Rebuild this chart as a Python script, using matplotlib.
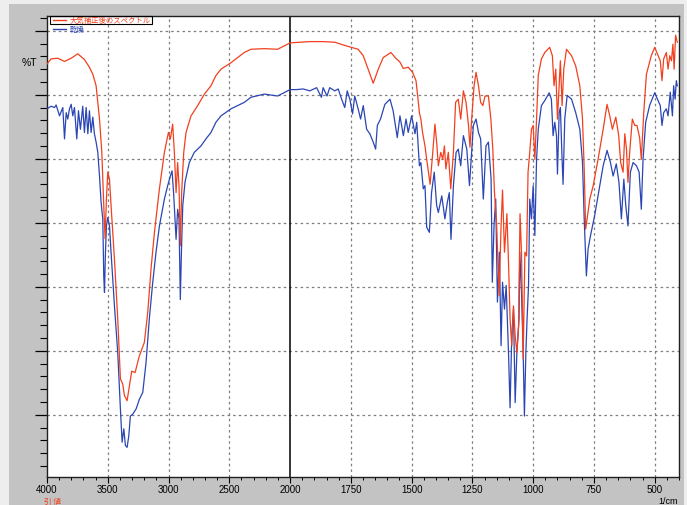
import numpy as np
import matplotlib
matplotlib.use("Agg")
import matplotlib.pyplot as plt
from matplotlib.patches import Rectangle
from matplotlib.ticker import FixedLocator, NullFormatter, MultipleLocator

# ---------------- data (wavenumber 1/cm, %T) ----------------
red_w = [4000, 3966, 3911, 3856, 3801, 3747, 3692, 3651, 3623, 3596,
         3568, 3549, 3533, 3522, 3511, 3500, 3486, 3473, 3445, 3418,
         3396, 3377, 3363, 3341, 3322, 3303, 3275, 3240, 3199, 3171,
         3144, 3116, 3075, 3034, 3001, 2985, 2966, 2952, 2938, 2925,
         2914, 2903, 2892, 2875, 2856, 2815, 2760, 2705, 2651, 2610,
         2568, 2486, 2377, 2322, 2212, 2103, 2000,
         1960, 1919, 1864, 1816, 1775, 1747, 1720, 1699, 1679, 1658,
         1637, 1617, 1585, 1565, 1548, 1534, 1514, 1496, 1482, 1475,
         1468, 1462, 1455, 1445, 1438, 1424, 1413, 1404, 1397, 1390,
         1380, 1372, 1365, 1359, 1349, 1339, 1328, 1319, 1308, 1298,
         1287, 1276, 1266, 1260, 1253, 1243, 1235, 1225, 1216, 1207,
         1198, 1184, 1174, 1166, 1159, 1150, 1140, 1132, 1126, 1118,
         1108, 1101, 1095, 1088, 1081, 1074, 1067, 1060, 1054,
         1048, 1041, 1034, 1027, 1021, 1014, 1007, 1000, 993, 986,
         979, 966, 952, 932, 921, 914, 907, 900, 893, 888,
         881, 874, 863, 842, 825, 808, 797, 790, 784, 778,
         767, 753, 733, 712, 696, 685, 674, 660, 648, 640,
         630, 623, 616, 610, 603, 592, 582, 573, 562, 555,
         545, 534, 514, 500, 486, 477, 470, 463, 452, 445,
         438, 431, 425, 420, 414, 407]
red_t = [64.8, 65.6, 65.7, 65.2, 65.7, 66.4, 65.5, 64.3, 63.2, 61.4,
         56.2, 51.0, 42.7, 37.5, 43.8, 47.9, 46.8, 42.7, 34.3, 25.0,
         15.6, 14.8, 13.0, 12.2, 14.5, 16.8, 16.6, 19.2, 21.3, 26.0,
         32.8, 38.5, 45.3, 51.0, 54.1, 53.1, 55.4, 51.0, 44.7, 49.4,
         45.8, 36.4, 44.7, 51.0, 54.1, 56.7, 58.3, 60.1, 61.4, 63.0,
         64.0, 65.0, 66.6, 67.1, 67.2, 67.1, 68.1,
         68.2, 68.3, 68.3, 68.2, 67.7, 67.4, 67.1, 66.1, 64.0, 61.8,
         64.0, 65.8, 66.6, 65.7, 65.1, 64.1, 64.3, 63.5, 62.2, 59.8,
         57.2, 56.2, 54.1, 52.0, 49.9, 46.0, 51.0, 55.4, 52.6, 48.9,
         51.0, 49.9, 52.0, 48.4, 51.0, 45.3, 51.0, 58.8, 59.3, 56.2,
         60.6, 58.8, 55.2, 51.8, 56.2, 61.4, 63.5, 61.4, 58.8, 58.3,
         59.8, 59.8, 56.2, 51.5, 44.7, 39.5, 28.6, 39.5, 45.1, 35.4,
         41.4, 33.3, 25.0, 20.8, 27.0, 22.3, 19.7, 23.9, 41.4,
         35.4, 18.7, 35.4, 34.8, 47.9, 51.0, 54.6, 55.2, 49.9, 56.2,
         63.0, 65.6, 66.6, 67.4, 66.1, 61.4, 64.0, 56.2, 61.4, 65.3,
         58.3, 64.0, 67.1, 66.1, 64.5, 61.4, 56.2, 48.4, 39.0, 40.6,
         43.7, 45.8, 49.9, 54.6, 58.5, 56.7, 54.6, 56.5, 53.6, 49.4,
         47.9, 53.9, 51.5, 46.3, 51.0, 56.2, 55.2, 55.2, 53.3, 49.9,
         57.2, 63.2, 66.1, 67.4, 66.1, 65.3, 62.2, 65.6, 66.6, 64.0,
         66.1, 65.3, 67.9, 64.0, 69.3, 68.2]

blue_w = [4000, 3966, 3938, 3925, 3897, 3870, 3856, 3842, 3829, 3815,
          3801, 3788, 3774, 3755, 3741, 3725, 3706, 3692, 3678, 3664,
          3651, 3637, 3623, 3610, 3596, 3582, 3568, 3555, 3541, 3533,
          3527, 3519, 3511, 3500, 3486, 3473, 3445, 3418, 3396, 3382,
          3368, 3355, 3341, 3327, 3314, 3294, 3267, 3240, 3212, 3185,
          3158, 3130, 3103, 3075, 3034, 3007, 2985, 2971, 2957, 2947,
          2938, 2925, 2914, 2903, 2894, 2883, 2864, 2829, 2788, 2733,
          2692, 2651, 2610, 2568, 2486, 2377, 2322, 2212, 2103, 2000,
          1974, 1946, 1919, 1891, 1871, 1864, 1848, 1837, 1816, 1802,
          1788, 1775, 1765, 1754, 1743, 1734, 1720, 1710, 1699, 1685,
          1672, 1658, 1648, 1641, 1628, 1610, 1589, 1576, 1559, 1548,
          1534, 1523, 1514, 1500, 1486, 1479, 1468, 1462, 1452, 1445,
          1438, 1427, 1418, 1407, 1397, 1390, 1376, 1363, 1353, 1345,
          1338, 1328, 1317, 1308, 1298, 1287, 1273, 1262, 1256, 1246,
          1235, 1225, 1216, 1205, 1194, 1184, 1173, 1168, 1161, 1154,
          1147, 1139, 1132, 1126, 1118, 1111, 1101, 1095, 1088, 1081,
          1074, 1067, 1058,
          1055, 1048, 1041, 1036, 1030, 1025, 1019, 1014, 1007, 1000,
          993, 986, 979, 966, 952, 934, 925, 918, 911, 904,
          900, 893, 888, 882, 877, 870, 860, 842, 825, 808,
          797, 790, 785, 781, 774, 764, 747, 726, 712, 696,
          682, 671, 658, 647, 637, 627, 619, 610, 600, 589,
          575, 564, 555, 548, 537, 521, 500, 486, 477, 470,
          463, 452, 445, 436, 427, 422, 416, 411, 407]
blue_t = [57.8, 58.2, 58.0, 58.4, 56.7, 58.0, 53.1, 57.2, 56.2, 57.8,
          58.5, 56.7, 58.0, 53.1, 57.5, 54.6, 58.2, 54.1, 58.0, 53.9,
          57.5, 54.1, 56.5, 53.9, 52.6, 51.0, 47.3, 43.2, 40.6, 31.7,
          29.1, 35.4, 39.5, 40.8, 39.5, 35.4, 27.0, 19.7, 10.9, 5.7,
          7.8, 5.2, 4.9, 6.7, 9.8, 10.1, 10.9, 12.4, 13.5, 18.2,
          25.0, 30.7, 35.4, 39.5, 43.7, 45.8, 47.3, 48.1, 44.2, 40.6,
          37.4, 42.1, 40.6, 28.0, 35.4, 42.7, 46.4, 49.4, 51.0, 52.0,
          53.1, 54.1, 55.7, 56.7, 57.8, 58.8, 59.6, 60.1, 59.8, 60.8,
          60.8, 60.9, 60.6, 61.1, 59.6, 61.1, 59.8, 61.1, 60.6, 60.9,
          59.3, 58.0, 60.6, 59.3, 57.0, 59.8, 57.8, 56.2, 58.3, 54.6,
          53.9, 52.6, 51.5, 55.2, 56.2, 58.5, 59.3, 57.5, 53.3, 56.7,
          53.6, 56.2, 54.1, 56.7, 53.9, 55.7, 48.9, 49.4, 45.3, 45.8,
          39.3, 38.5, 44.7, 47.9, 42.7, 41.6, 44.2, 40.6, 43.2, 44.7,
          37.4, 45.8, 51.0, 51.5, 48.9, 53.6, 51.5, 45.8, 49.4, 55.2,
          56.2, 54.1, 53.1, 43.7, 52.0, 52.6, 46.8, 30.7, 39.5, 43.7,
          27.6, 35.4, 20.8, 30.7, 26.5, 30.2, 19.2, 11.1, 22.3, 26.5,
          11.9, 19.7, 25.0,
          35.4, 29.1, 19.7, 9.8, 19.7, 25.0, 30.2, 43.7, 40.6, 45.8,
          38.0, 49.9, 54.6, 58.3, 59.1, 60.3, 59.3, 53.6, 55.7, 53.6,
          47.6, 57.2, 58.0, 51.0, 46.0, 56.2, 59.9, 59.3, 57.2, 54.6,
          49.4, 40.6, 35.4, 31.7, 35.9, 38.0, 41.1, 45.8, 48.9, 51.3,
          49.4, 47.3, 49.2, 46.3, 40.6, 46.8, 42.7, 39.5, 47.9, 49.4,
          48.9, 47.9, 42.1, 49.9, 55.7, 58.3, 60.3, 59.1, 58.3, 55.2,
          57.2, 57.8, 56.7, 60.4, 56.7, 61.4, 59.3, 62.2, 61.4]

x_major = [4000, 3500, 3000, 2500, 2000, 1750, 1500, 1250, 1000, 750, 500]
x_labels = ["4000", "3500", "3000", "2500", "2000", "1750", "1500", "1250", "1000", "750", "500"]
legend_labels = ["大気補正後のスペクトル", "乾燥"]

RED = "#f2401e"
BLUE = "#2a46b4"

# two-scale IR axis: 500 /cm per unit above 2000, 250 /cm per unit below
def fwd(w):
    w = np.asarray(w, dtype=float)
    return np.where(w >= 2000, 4 + (w - 2000) / 500.0, 4 + (w - 2000) / 250.0)

def inv(u):
    u = np.asarray(u, dtype=float)
    return np.where(u >= 4, 2000 + (u - 4) * 500.0, 2000 + (u - 4) * 250.0)

plt.rcParams['font.family'] = ['Liberation Sans', 'DejaVu Sans']

fig = plt.figure(figsize=(6.87, 5.06), dpi=100, facecolor="#c3c3c3")
# light outer margin (top, left, right)
fig.patches.append(Rectangle((0, 0), 9 / 687, 1, transform=fig.transFigure,
                             facecolor="#eeeeee", edgecolor="none", zorder=0))
fig.patches.append(Rectangle((0, 1 - 5 / 506), 1, 5 / 506, transform=fig.transFigure,
                             facecolor="#eeeeee", edgecolor="none", zorder=0))
fig.patches.append(Rectangle((684 / 687, 0), 3 / 687, 1, transform=fig.transFigure,
                             facecolor="#eeeeee", edgecolor="none", zorder=0))

ax = fig.add_axes([47 / 687, 1 - 478 / 506, 632 / 687, 461 / 506])
ax.set_facecolor("white")
ax.set_xscale('function', functions=(fwd, inv))
ax.set_xlim(4000, 400)
ax.set_ylim(0.27, 72.3)

# grid
for w in x_major[1:]:
    if w == 2000:
        continue
    ax.axvline(w, color="#7e7e7e", lw=0.9, ls=(0, (2, 2.5)), zorder=1)
for v in range(10, 71, 10):
    ax.axhline(v, color="#7e7e7e", lw=0.9, ls=(0, (2, 2.5)), zorder=1)
ax.axvline(2000, color="black", lw=1.1, zorder=2)

ax.plot(blue_w, blue_t, color=BLUE, lw=0.9, zorder=3)
ax.plot(red_w, red_t, color=RED, lw=0.9, zorder=4)

# ticks
ax.xaxis.set_major_locator(FixedLocator(x_major))
ax.set_xticklabels(x_labels)
x_minor = list(range(4000, 2000, -100)) + list(range(2000, 399, -50))
ax.xaxis.set_minor_locator(FixedLocator(x_minor))
ax.xaxis.set_minor_formatter(NullFormatter())
ax.yaxis.set_major_locator(FixedLocator(list(range(10, 71, 10))))
ax.yaxis.set_minor_locator(MultipleLocator(2))
ax.set_yticklabels([])
ax.tick_params(axis='x', which='major', direction='out', length=4, width=0.8,
               labelsize=7, pad=1, colors='black')
ax.tick_params(axis='x', which='minor', direction='out', length=2.5, width=0.7)
ax.tick_params(axis='y', which='major', direction='out', length=9, width=0.9)
ax.tick_params(axis='y', which='minor', direction='out', length=5, width=0.8)
for s in ax.spines.values():
    s.set_color("#202020")
    s.set_linewidth(1.0)

# axis texts
fig.text(29 / 687, 1 - 63 / 506, "%T", fontsize=7.5, ha='center', va='center')
fig.text(668 / 687, 1 - 501.5 / 506, "1/cm", fontsize=6.5, ha='center', va='center')
fig.text(52 / 687, 1 - 501.5 / 506, "引 値", fontsize=5.5, ha='center', va='center',
         color=RED, family=['Noto Sans CJK JP', 'DejaVu Sans'])

# legend
lx0, lx1, lt = 53 / 687, 66 / 687, 70 / 687
y1, y2 = 1 - 20.5 / 506, 1 - 29.5 / 506
fig.lines.append(plt.Line2D([lx0, lx1], [y1, y1], transform=fig.transFigure, color=RED, lw=1))
fig.lines.append(plt.Line2D([lx0, lx1], [y2, y2], transform=fig.transFigure, color=BLUE, lw=1))
fig.text(lt, y1, legend_labels[0], fontsize=5.3, color=RED, va='center', ha='left',
         family=['Noto Sans CJK JP', 'DejaVu Sans'])
fig.text(lt, y2, legend_labels[1], fontsize=5.3, color=BLUE, va='center', ha='left',
         family=['Noto Sans CJK JP', 'DejaVu Sans'])
fig.patches.append(Rectangle((50 / 687, 1 - 24.5 / 506), 102 / 687, 8 / 506,
                             transform=fig.transFigure, facecolor='none',
                             edgecolor='black', lw=0.8, zorder=5))

fig.savefig("out.png", dpi=100, facecolor=fig.get_facecolor())
